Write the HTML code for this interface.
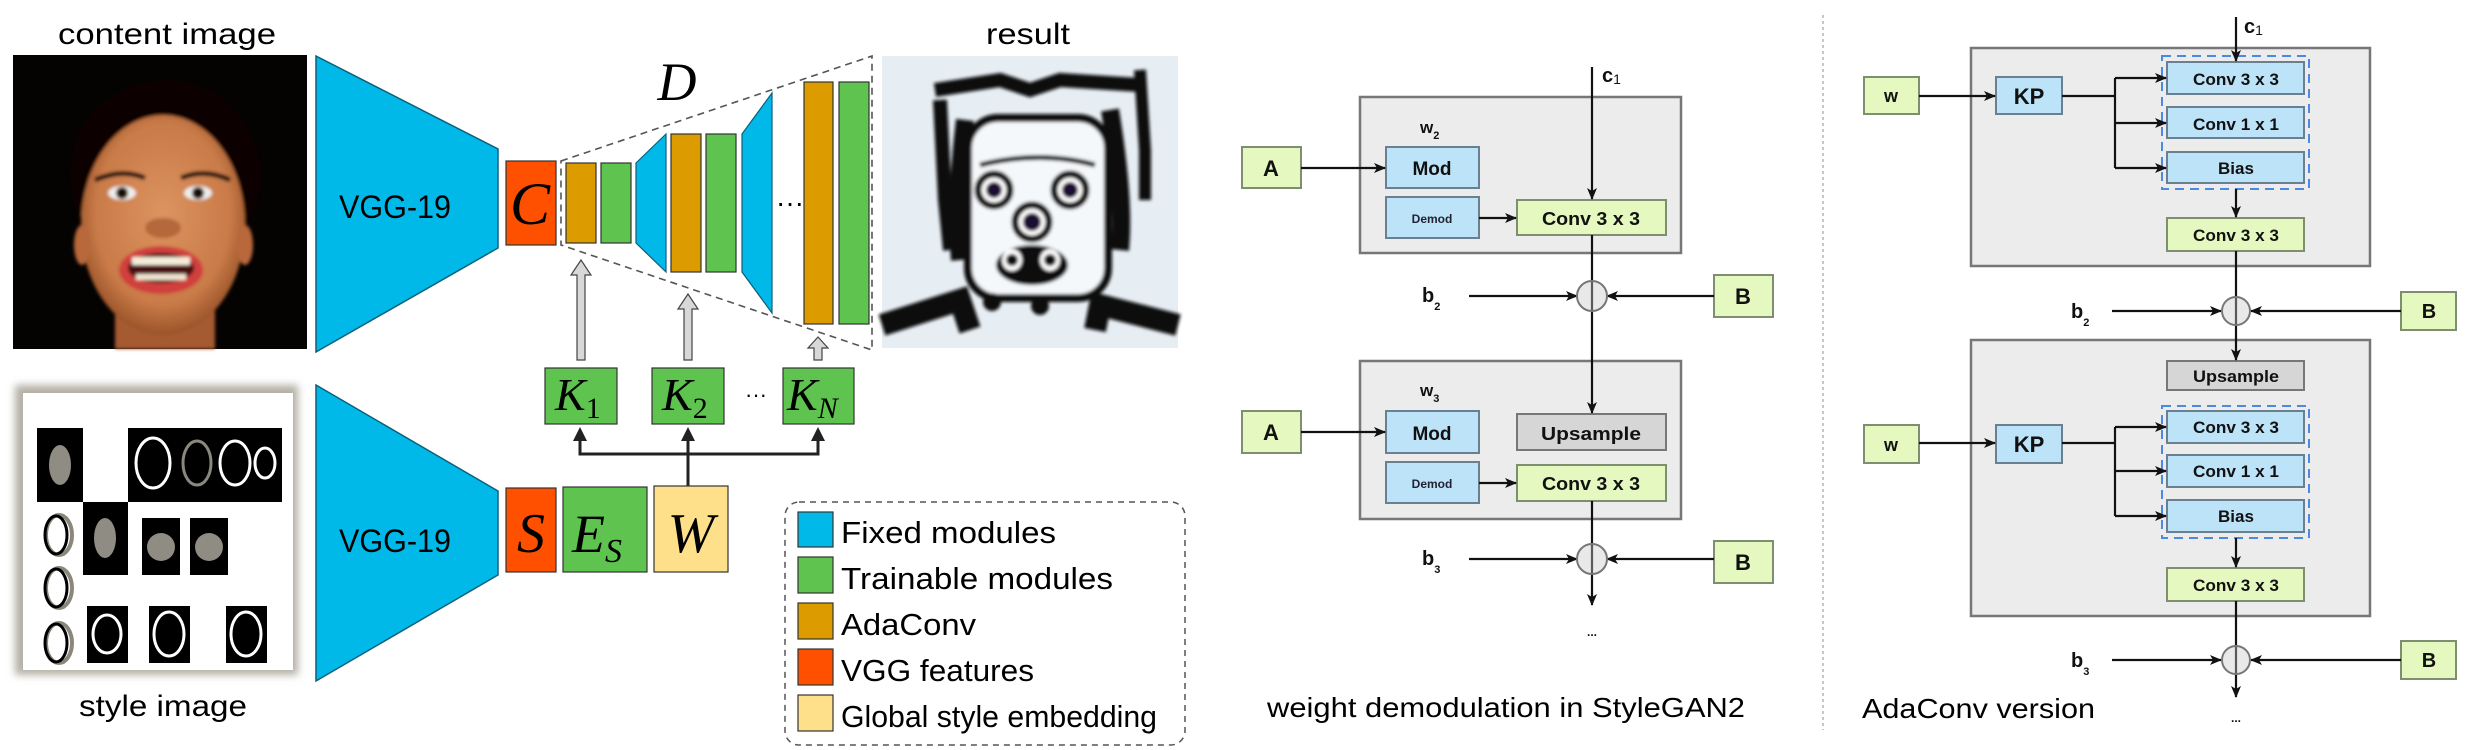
<!DOCTYPE html>
<html><head><meta charset="utf-8"><style>
html,body{margin:0;padding:0;background:#fff;}
svg{display:block;}
.sf{font-family:"Liberation Sans",sans-serif;}
.m{font-family:"Liberation Serif",serif;font-style:italic;}
.b{font-family:"Liberation Sans",sans-serif;font-weight:bold;}
</style></head><body>
<svg width="2468" height="750" viewBox="0 0 2468 750" xmlns="http://www.w3.org/2000/svg">
<defs>
<marker id="ah" viewBox="0 0 12 10" refX="11" refY="5" markerWidth="12" markerHeight="10" markerUnits="userSpaceOnUse" orient="auto">
<path d="M0,0 L12,5 L0,10 L3,5 z" fill="#111"/></marker>
<radialGradient id="skin" cx="50%" cy="45%" r="55%"><stop offset="0" stop-color="#dc9460"/><stop offset="0.75" stop-color="#c97a48"/><stop offset="1" stop-color="#9a5428"/></radialGradient>
<filter id="bl"><feGaussianBlur stdDeviation="4"/></filter>
<filter id="bl2"><feGaussianBlur stdDeviation="1.5"/></filter>
</defs>

<!-- content image -->
<text x="167" y="44" font-size="30" class="sf" text-anchor="middle" textLength="218" lengthAdjust="spacingAndGlyphs">content image</text>
<rect x="13" y="55" width="294" height="294" fill="#050202"/>
<g filter="url(#bl2)">
<ellipse cx="165" cy="175" rx="95" ry="95" fill="#0e0604"/>
<rect x="115" y="305" width="100" height="44" fill="#a55a30"/>
<ellipse cx="163" cy="225" rx="82" ry="110" fill="url(#skin)"/>
<ellipse cx="82" cy="245" rx="8" ry="20" fill="#b8683a"/>
<ellipse cx="245" cy="245" rx="8" ry="20" fill="#b8683a"/>
<path d="M95,180 Q122,168 145,178" stroke="#2a1208" stroke-width="5" fill="none"/>
<path d="M181,178 Q205,168 230,180" stroke="#2a1208" stroke-width="5" fill="none"/>
<ellipse cx="122" cy="193" rx="14" ry="7" fill="#eee"/><circle cx="122" cy="193" r="6" fill="#1a0a05"/>
<ellipse cx="198" cy="193" rx="14" ry="7" fill="#eee"/><circle cx="198" cy="193" r="6" fill="#1a0a05"/>
<ellipse cx="163" cy="228" rx="18" ry="10" fill="#b5673a"/>
<ellipse cx="161" cy="270" rx="42" ry="24" fill="#d0403e"/>
<ellipse cx="161" cy="268" rx="33" ry="15" fill="#4a0c0a"/>
<rect x="132" y="257" width="58" height="8" fill="#f4ecd8"/>
<rect x="136" y="274" width="50" height="6" fill="#f0e6d0"/>
</g>

<!-- VGG -->
<polygon points="316,56 498,149 498,248 316,352" fill="#00b9e8" stroke="#0d5f7a" stroke-width="1.5"/>
<text x="395" y="218" font-size="32" class="sf" text-anchor="middle" textLength="112" lengthAdjust="spacingAndGlyphs">VGG-19</text>
<polygon points="316,385 498,491 498,575 316,681" fill="#00b9e8" stroke="#0d5f7a" stroke-width="1.5"/>
<text x="395" y="552" font-size="32" class="sf" text-anchor="middle" textLength="112" lengthAdjust="spacingAndGlyphs">VGG-19</text>

<rect x="506" y="161" width="50" height="84" fill="#ff5000" stroke="#333" stroke-width="1.2"/>
<text x="530" y="224" font-size="60" class="m" text-anchor="middle">C</text>
<path d="M561,161 L872,56 L872,350 L561,245 Z" fill="none" stroke="#555" stroke-width="1.6" stroke-dasharray="7,5"/>
<rect x="566" y="163" width="30" height="80" fill="#dc9c00" stroke="#333" stroke-width="1.2"/>
<rect x="601" y="163" width="30" height="80" fill="#5ec44f" stroke="#333" stroke-width="1.2"/>
<polygon points="636,163 666,134 666,272 636,243" fill="#00b9e8" stroke="#0d5f7a" stroke-width="1.2"/>
<rect x="671" y="134" width="30" height="138" fill="#dc9c00" stroke="#333" stroke-width="1.2"/>
<rect x="706" y="134" width="30" height="138" fill="#5ec44f" stroke="#333" stroke-width="1.2"/>
<polygon points="742,134 772,93 772,313 742,272" fill="#00b9e8" stroke="#0d5f7a" stroke-width="1.2"/>
<text x="790" y="212" font-size="28" class="sf" text-anchor="middle">···</text>
<rect x="804" y="82" width="29" height="242" fill="#dc9c00" stroke="#333" stroke-width="1.2"/>
<rect x="839" y="82" width="30" height="242" fill="#5ec44f" stroke="#333" stroke-width="1.2"/>
<text x="677" y="100" font-size="54" class="m" text-anchor="middle">D</text>

<g fill="#d8d8d8" stroke="#444" stroke-width="1.2">
<path d="M577,360 L577,275 L571,275 L581,260 L591,275 L585,275 L585,360 Z"/>
<path d="M684,360 L684,309 L678,309 L688,294 L698,309 L692,309 L692,360 Z"/>
<path d="M814,360 L814,348 L808,348 L818,337 L828,348 L822,348 L822,360 Z"/>
</g>

<rect x="545" y="368" width="72" height="56" fill="#5ec44f" stroke="#333" stroke-width="1.2"/>
<rect x="652" y="368" width="72" height="56" fill="#5ec44f" stroke="#333" stroke-width="1.2"/>
<rect x="783" y="368" width="71" height="56" fill="#5ec44f" stroke="#333" stroke-width="1.2"/>
<text x="555" y="410" font-size="46" class="m">K<tspan font-style="normal" font-size="30" dy="8">1</tspan></text>
<text x="662" y="410" font-size="46" class="m">K<tspan font-style="normal" font-size="30" dy="8">2</tspan></text>
<text x="787" y="410" font-size="46" class="m">K<tspan font-size="30" dy="8">N</tspan></text>
<text x="756" y="402" font-size="22" class="sf" text-anchor="middle">···</text>

<g stroke="#222" stroke-width="3" fill="none">
<path d="M688,486 L688,440"/><path d="M580,440 L580,454 L818,454 L818,440"/>
</g>
<g fill="#222"><path d="M573,441 L580,427 L587,441 Z"/><path d="M681,441 L688,427 L695,441 Z"/><path d="M811,441 L818,427 L825,441 Z"/></g>

<rect x="506" y="488" width="50" height="84" fill="#ff5000" stroke="#333" stroke-width="1.2"/>
<text x="531" y="552" font-size="56" class="m" text-anchor="middle">S</text>
<rect x="563" y="487" width="84" height="85" fill="#5ec44f" stroke="#333" stroke-width="1.2"/>
<text x="572" y="552" font-size="54" class="m">E<tspan font-size="34" dy="10">S</tspan></text>
<rect x="654" y="486" width="74" height="86" fill="#fee08a" stroke="#333" stroke-width="1.2"/>
<text x="691" y="552" font-size="56" class="m" text-anchor="middle">W</text>

<!-- style image -->
<rect x="15" y="385" width="283" height="290" fill="#b4b0a6" filter="url(#bl)"/>
<rect x="23" y="393" width="270" height="277" fill="#fff"/>
<g fill="#000">
<rect x="37" y="428" width="46" height="74"/><rect x="128" y="428" width="154" height="74"/>
<rect x="83" y="502" width="45" height="73"/><rect x="142" y="518" width="38" height="57"/><rect x="190" y="518" width="38" height="57"/>
<rect x="87" y="606" width="41" height="57"/><rect x="149" y="606" width="41" height="57"/><rect x="226" y="606" width="41" height="57"/>
</g>
<g fill="#8f8c83"><ellipse cx="60" cy="465" rx="11" ry="20"/><ellipse cx="105" cy="538" rx="11" ry="20"/><circle cx="161" cy="547" r="14"/><circle cx="209" cy="547" r="14"/></g>
<g fill="none" stroke-width="3">
<ellipse cx="153" cy="463" rx="17" ry="25" stroke="#fff"/><ellipse cx="197" cy="463" rx="14" ry="22" stroke="#8a877c"/>
<ellipse cx="235" cy="463" rx="15" ry="22" stroke="#fff"/><ellipse cx="265" cy="463" rx="10" ry="15" stroke="#fff"/>
<ellipse cx="107" cy="634" rx="14" ry="19" stroke="#fff"/><ellipse cx="169" cy="634" rx="15" ry="22" stroke="#fff"/><ellipse cx="246" cy="634" rx="15" ry="22" stroke="#fff"/>
<ellipse cx="59" cy="535" rx="13" ry="20" stroke="#8a877c" stroke-width="4"/><ellipse cx="56" cy="535" rx="11" ry="19" stroke="#000"/>
<ellipse cx="59" cy="588" rx="13" ry="20" stroke="#8a877c" stroke-width="4"/><ellipse cx="56" cy="588" rx="11" ry="19" stroke="#000"/>
<ellipse cx="59" cy="643" rx="13" ry="20" stroke="#8a877c" stroke-width="4"/><ellipse cx="56" cy="643" rx="11" ry="19" stroke="#000"/>
</g>
<text x="163" y="716" font-size="30" class="sf" text-anchor="middle" textLength="168" lengthAdjust="spacingAndGlyphs">style image</text>

<!-- result -->
<text x="1028" y="44" font-size="30" class="sf" text-anchor="middle" textLength="84" lengthAdjust="spacingAndGlyphs">result</text>
<rect x="882" y="56" width="296" height="292" fill="#e6edf3"/>
<g filter="url(#bl2)">
<path d="M935,90 L1000,80 L1030,90 L1060,80 L1140,85" stroke="#111" stroke-width="14" fill="none"/>
<path d="M940,100 L945,200 L950,250" stroke="#111" stroke-width="14" fill="none"/>
<path d="M1140,70 L1145,150 L1145,200" stroke="#111" stroke-width="12" fill="none"/>
<path d="M965,120 Q955,200 960,260" stroke="#111" stroke-width="18" fill="none"/>
<path d="M1110,110 Q1125,200 1120,250" stroke="#111" stroke-width="18" fill="none"/>
<rect x="968" y="118" width="140" height="180" rx="30" fill="#f5f8fa" stroke="#111" stroke-width="8"/>
<path d="M980,165 Q1040,150 1095,165" stroke="#111" stroke-width="5" fill="none"/>
<circle cx="994" cy="190" r="16" fill="#fff" stroke="#111" stroke-width="7"/><circle cx="994" cy="190" r="8" fill="#1c1030"/>
<circle cx="1070" cy="190" r="16" fill="#fff" stroke="#111" stroke-width="7"/><circle cx="1070" cy="190" r="8" fill="#1c1030"/>
<circle cx="1032" cy="222" r="17" fill="#fff" stroke="#111" stroke-width="7"/><circle cx="1032" cy="222" r="9" fill="#1c1030"/>
<ellipse cx="1032" cy="265" rx="36" ry="20" fill="#111"/>
<ellipse cx="1012" cy="260" rx="10" ry="11" fill="#fff"/><ellipse cx="1050" cy="260" rx="10" ry="11" fill="#fff"/>
<circle cx="1012" cy="260" r="6" fill="#111"/><circle cx="1050" cy="260" r="6" fill="#111"/>
<path d="M882,325 L960,300 L970,330" stroke="#111" stroke-width="22" fill="none"/>
<path d="M1178,325 L1100,305 L1095,330" stroke="#111" stroke-width="22" fill="none"/>
<circle cx="992" cy="302" r="9" fill="#111"/><circle cx="1040" cy="306" r="9" fill="#111"/>
</g>

<!-- legend -->
<rect x="785" y="502" width="400" height="243" rx="14" fill="none" stroke="#555" stroke-width="1.5" stroke-dasharray="6,5"/>
<g stroke="#333" stroke-width="1.2">
<rect x="798" y="512" width="35" height="35" fill="#00b9e8"/>
<rect x="798" y="557" width="35" height="36" fill="#5ec44f"/>
<rect x="798" y="603" width="35" height="36" fill="#dc9c00"/>
<rect x="798" y="649" width="35" height="36" fill="#ff5000"/>
<rect x="798" y="695" width="35" height="36" fill="#fee08a"/>
</g>
<g class="sf" font-size="31">
<text x="841" y="543" textLength="215" lengthAdjust="spacingAndGlyphs">Fixed modules</text>
<text x="841" y="589" textLength="272" lengthAdjust="spacingAndGlyphs">Trainable modules</text>
<text x="841" y="635" textLength="135" lengthAdjust="spacingAndGlyphs">AdaConv</text>
<text x="841" y="681" textLength="193" lengthAdjust="spacingAndGlyphs">VGG features</text>
<text x="841" y="727" textLength="316" lengthAdjust="spacingAndGlyphs">Global style embedding</text>
</g>

<line x1="1823" y1="15" x2="1823" y2="730" stroke="#c8c8c8" stroke-width="2" stroke-dasharray="3,3"/>

<!-- StyleGAN2 diagram -->
<g stroke="#777" stroke-width="2.5">
<rect x="1360" y="97" width="321" height="156" fill="#ececec"/>
<rect x="1360" y="361" width="321" height="158" fill="#ececec"/>
</g>
<g stroke-width="2">
<rect x="1242" y="147" width="59" height="41" fill="#e5f8bf" stroke="#7e8f6f"/>
<rect x="1386" y="147" width="93" height="41" fill="#bde3f8" stroke="#6a7f8f"/>
<rect x="1386" y="197" width="93" height="41" fill="#bde3f8" stroke="#6a7f8f"/>
<rect x="1517" y="200" width="149" height="35" fill="#e5f8bf" stroke="#7e8f6f"/>
<rect x="1714" y="275" width="59" height="42" fill="#e5f8bf" stroke="#7e8f6f"/>
<rect x="1242" y="411" width="59" height="42" fill="#e5f8bf" stroke="#7e8f6f"/>
<rect x="1386" y="411" width="93" height="42" fill="#bde3f8" stroke="#6a7f8f"/>
<rect x="1517" y="414" width="149" height="36" fill="#d6d6d6" stroke="#777"/>
<rect x="1386" y="462" width="93" height="41" fill="#bde3f8" stroke="#6a7f8f"/>
<rect x="1517" y="465" width="149" height="36" fill="#e5f8bf" stroke="#7e8f6f"/>
<rect x="1714" y="541" width="59" height="42" fill="#e5f8bf" stroke="#7e8f6f"/>
</g>
<g stroke="#111" stroke-width="2.2" fill="none">
<line x1="1592" y1="67" x2="1592" y2="199" marker-end="url(#ah)"/>
<line x1="1301" y1="168" x2="1385" y2="168" marker-end="url(#ah)"/>
<line x1="1479" y1="218" x2="1516" y2="218" marker-end="url(#ah)"/>
<line x1="1592" y1="235" x2="1592" y2="413" marker-end="url(#ah)"/>
<line x1="1469" y1="296" x2="1577" y2="296" marker-end="url(#ah)"/>
<line x1="1714" y1="296" x2="1607" y2="296" marker-end="url(#ah)"/>
<line x1="1301" y1="432" x2="1385" y2="432" marker-end="url(#ah)"/>
<line x1="1479" y1="483" x2="1516" y2="483" marker-end="url(#ah)"/>
<line x1="1592" y1="501" x2="1592" y2="605" marker-end="url(#ah)"/>
<line x1="1469" y1="559" x2="1577" y2="559" marker-end="url(#ah)"/>
<line x1="1714" y1="559" x2="1607" y2="559" marker-end="url(#ah)"/>
</g>
<g fill="rgba(200,200,200,0.4)" stroke="#777" stroke-width="2">
<circle cx="1592" cy="296" r="15"/><circle cx="1592" cy="559" r="15"/>
</g>
<g class="b" fill="#111" text-anchor="middle">
<text x="1271" y="176" font-size="22">A</text>
<text x="1432" y="175" font-size="19">Mod</text>
<text x="1432" y="223" font-size="12" fill="#223">Demod</text>
<text x="1591" y="225" font-size="18" textLength="98" lengthAdjust="spacingAndGlyphs">Conv 3 x 3</text>
<text x="1743" y="304" font-size="22">B</text>
<text x="1271" y="440" font-size="22">A</text>
<text x="1432" y="440" font-size="19">Mod</text>
<text x="1432" y="488" font-size="12" fill="#223">Demod</text>
<text x="1591" y="440" font-size="18" textLength="100" lengthAdjust="spacingAndGlyphs">Upsample</text>
<text x="1591" y="490" font-size="18" textLength="98" lengthAdjust="spacingAndGlyphs">Conv 3 x 3</text>
<text x="1743" y="570" font-size="22">B</text>
</g>
<g class="b" fill="#111">
<text x="1602" y="82" font-size="20">c<tspan font-weight="normal" font-size="14" dy="2">1</tspan></text>
<text x="1420" y="133" font-size="17">w<tspan font-size="11" dy="6">2</tspan></text>
<text x="1420" y="396" font-size="17">w<tspan font-size="11" dy="6">3</tspan></text>
<text x="1422" y="302" font-size="20">b<tspan font-size="11" dy="8">2</tspan></text>
<text x="1422" y="565" font-size="20">b<tspan font-size="11" dy="8">3</tspan></text>
<text x="1592" y="636" font-size="12" text-anchor="middle">...</text>
</g>
<text x="1506" y="717" font-size="28" class="sf" text-anchor="middle" textLength="478" lengthAdjust="spacingAndGlyphs">weight demodulation in StyleGAN2</text>

<!-- AdaConv diagram -->
<g stroke="#777" stroke-width="2.5">
<rect x="1971" y="48" width="399" height="218" fill="#ececec"/>
<rect x="1971" y="340" width="399" height="276" fill="#ececec"/>
</g>
<g stroke-width="2">
<rect x="1864" y="77" width="55" height="37" fill="#e5f8bf" stroke="#7e8f6f"/>
<rect x="1996" y="77" width="66" height="37" fill="#bde3f8" stroke="#6a7f8f"/>
<rect x="2167" y="62" width="137" height="32" fill="#bde3f8" stroke="#6a7f8f"/>
<rect x="2167" y="107" width="137" height="31" fill="#bde3f8" stroke="#6a7f8f"/>
<rect x="2167" y="152" width="137" height="31" fill="#bde3f8" stroke="#6a7f8f"/>
<rect x="2167" y="218" width="137" height="33" fill="#e5f8bf" stroke="#7e8f6f"/>
<rect x="2401" y="292" width="55" height="38" fill="#e5f8bf" stroke="#7e8f6f"/>
<rect x="2167" y="361" width="137" height="29" fill="#d6d6d6" stroke="#777"/>
<rect x="1864" y="425" width="55" height="38" fill="#e5f8bf" stroke="#7e8f6f"/>
<rect x="1996" y="425" width="66" height="38" fill="#bde3f8" stroke="#6a7f8f"/>
<rect x="2167" y="411" width="137" height="32" fill="#bde3f8" stroke="#6a7f8f"/>
<rect x="2167" y="455" width="137" height="32" fill="#bde3f8" stroke="#6a7f8f"/>
<rect x="2167" y="500" width="137" height="32" fill="#bde3f8" stroke="#6a7f8f"/>
<rect x="2167" y="568" width="137" height="33" fill="#e5f8bf" stroke="#7e8f6f"/>
<rect x="2401" y="641" width="55" height="38" fill="#e5f8bf" stroke="#7e8f6f"/>
</g>
<g fill="none" stroke="#4a8ae0" stroke-width="2" stroke-dasharray="9,6">
<rect x="2162" y="56" width="147" height="133"/>
<rect x="2162" y="406" width="147" height="132"/>
</g>
<g stroke="#111" stroke-width="2.2" fill="none">
<line x1="2236" y1="17" x2="2236" y2="61" marker-end="url(#ah)"/>
<line x1="1919" y1="96" x2="1995" y2="96" marker-end="url(#ah)"/>
<path d="M2062,96 L2115,96"/><line x1="2115" y1="78" x2="2115" y2="168"/>
<line x1="2115" y1="78" x2="2166" y2="78" marker-end="url(#ah)"/>
<line x1="2115" y1="123" x2="2166" y2="123" marker-end="url(#ah)"/>
<line x1="2115" y1="168" x2="2166" y2="168" marker-end="url(#ah)"/>
<line x1="2236" y1="189" x2="2236" y2="217" marker-end="url(#ah)"/>
<line x1="2236" y1="251" x2="2236" y2="360" marker-end="url(#ah)"/>
<line x1="2112" y1="311" x2="2221" y2="311" marker-end="url(#ah)"/>
<line x1="2401" y1="311" x2="2251" y2="311" marker-end="url(#ah)"/>
<line x1="1919" y1="443" x2="1995" y2="443" marker-end="url(#ah)"/>
<path d="M2062,443 L2115,443"/><line x1="2115" y1="427" x2="2115" y2="516"/>
<line x1="2115" y1="427" x2="2166" y2="427" marker-end="url(#ah)"/>
<line x1="2115" y1="471" x2="2166" y2="471" marker-end="url(#ah)"/>
<line x1="2115" y1="516" x2="2166" y2="516" marker-end="url(#ah)"/>
<line x1="2236" y1="538" x2="2236" y2="567" marker-end="url(#ah)"/>
<line x1="2236" y1="601" x2="2236" y2="697" marker-end="url(#ah)"/>
<line x1="2112" y1="660" x2="2221" y2="660" marker-end="url(#ah)"/>
<line x1="2401" y1="660" x2="2251" y2="660" marker-end="url(#ah)"/>
</g>
<g fill="rgba(200,200,200,0.4)" stroke="#777" stroke-width="2">
<circle cx="2236" cy="311" r="14"/><circle cx="2236" cy="660" r="14"/>
</g>
<g class="b" fill="#111" text-anchor="middle">
<text x="1891" y="102" font-size="18">w</text>
<text x="2029" y="104" font-size="22">KP</text>
<text x="2236" y="85" font-size="17" textLength="86" lengthAdjust="spacingAndGlyphs">Conv 3 x 3</text>
<text x="2236" y="130" font-size="17" textLength="86" lengthAdjust="spacingAndGlyphs">Conv 1 x 1</text>
<text x="2236" y="174" font-size="17">Bias</text>
<text x="2236" y="241" font-size="17" textLength="86" lengthAdjust="spacingAndGlyphs">Conv 3 x 3</text>
<text x="2429" y="318" font-size="20">B</text>
<text x="2236" y="382" font-size="17" textLength="86" lengthAdjust="spacingAndGlyphs">Upsample</text>
<text x="1891" y="451" font-size="18">w</text>
<text x="2029" y="452" font-size="22">KP</text>
<text x="2236" y="433" font-size="17" textLength="86" lengthAdjust="spacingAndGlyphs">Conv 3 x 3</text>
<text x="2236" y="477" font-size="17" textLength="86" lengthAdjust="spacingAndGlyphs">Conv 1 x 1</text>
<text x="2236" y="522" font-size="17">Bias</text>
<text x="2236" y="591" font-size="17" textLength="86" lengthAdjust="spacingAndGlyphs">Conv 3 x 3</text>
<text x="2429" y="667" font-size="20">B</text>
</g>
<g class="b" fill="#111">
<text x="2244" y="33" font-size="20">c<tspan font-weight="normal" font-size="14" dy="2">1</tspan></text>
<text x="2071" y="318" font-size="20">b<tspan font-size="11" dy="8">2</tspan></text>
<text x="2071" y="667" font-size="20">b<tspan font-size="11" dy="8">3</tspan></text>
<text x="2236" y="722" font-size="12" text-anchor="middle">...</text>
</g>
<text x="1862" y="718" font-size="28" class="sf" textLength="233" lengthAdjust="spacingAndGlyphs">AdaConv version</text>
</svg>
</body></html>
